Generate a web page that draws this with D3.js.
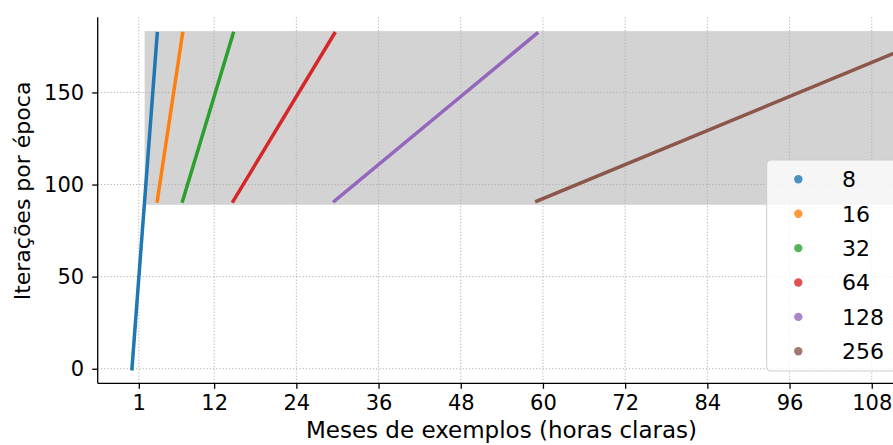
<!DOCTYPE html>
<html>
<head>
<meta charset="utf-8">
<script src="https://cdn.jsdelivr.net/npm/d3@7"></script>
<style>
  body { margin: 0; background: #fff; }
  svg { display: block; font-family: "DejaVu Sans", sans-serif; }
</style>
</head>
<body>
<div id="chart"></div>
<script>
const batchSizes = ["8", "16", "32", "64", "128", "256"];
const monthsStart = [0, 3.69, 7.39, 14.78, 29.56, 59.1];
const monthsEnd = [3.69, 7.39, 14.78, 29.56, 59.1, 118.2];
const itersStart = [0, 91, 91, 91, 91, 91];
const itersEnd = [182, 182, 182, 182, 182, 182];
const colors = ["#1f77b4", "#ff7f0e", "#2ca02c", "#d62728", "#9467bd", "#8c564b"];

const xTicks = [1, 12, 24, 36, 48, 60, 72, 84, 96, 108];
const yTicks = [0, 50, 100, 150];
// shaded region (months, iterations)
const band = { x0: 1.85, x1: 125, y0: 89, y1: 183.3 };

const width = 893, height = 445;
const plot = { left: 97.7, right: 906, top: 17.3, bottom: 383.3 };

const svg = d3.select("#chart").append("svg")
  .attr("width", width)
  .attr("height", height);

const x = d3.scaleLinear().domain([-5, 113]).range([plot.left, plot.right]);
const y = d3.scaleLinear().domain([-7.9, 190.8]).range([plot.bottom, plot.top]);

// Band
svg.append("rect")
  .attr("x", x(band.x0))
  .attr("y", y(band.y1))
  .attr("width", x(band.x1) - x(band.x0))
  .attr("height", y(band.y0) - y(band.y1))
  .attr("fill", "#d3d3d3");

// Grid
const grid = svg.append("g")
  .attr("stroke", "#b0b0b0")
  .attr("stroke-width", 1)
  .attr("stroke-dasharray", "1.2,2");
grid.selectAll(".vx").data(xTicks).join("line")
  .attr("x1", (d) => x(d)).attr("x2", (d) => x(d))
  .attr("y1", plot.top).attr("y2", plot.bottom);
grid.selectAll(".hy").data(yTicks).join("line")
  .attr("x1", plot.left).attr("x2", plot.right)
  .attr("y1", (d) => y(d)).attr("y2", (d) => y(d));

// Lines
svg.append("g")
  .selectAll("line")
  .data(batchSizes.map((b, i) => i))
  .join("line")
  .attr("x1", (i) => x(monthsStart[i]))
  .attr("y1", (i) => y(itersStart[i]))
  .attr("x2", (i) => x(monthsEnd[i]))
  .attr("y2", (i) => y(itersEnd[i]))
  .attr("stroke", (i) => colors[i])
  .attr("stroke-width", 3.5)
  .attr("stroke-linecap", "square");

// Axes
svg.append("g")
  .attr("transform", `translate(0,${plot.bottom})`)
  .call(d3.axisBottom(x).tickValues(xTicks).tickSize(5.5).tickPadding(6))
  .call((g) => g.select(".domain").attr("d", `M${plot.left},0H${plot.right}`).attr("stroke-width", 1.3))
  .call((g) => g.selectAll(".tick line").attr("stroke-width", 1.3))
  .call((g) => g.selectAll("text").attr("font-size", "21px").attr("fill", "#000")
    .attr("font-family", "DejaVu Sans"));

svg.append("g")
  .attr("transform", `translate(${plot.left},0)`)
  .call(d3.axisLeft(y).tickValues(yTicks).tickSize(5.5).tickPadding(8))
  .call((g) => g.select(".domain").attr("d", `M0,${plot.bottom}V${plot.top}`).attr("stroke-width", 1.3))
  .call((g) => g.selectAll(".tick line").attr("stroke-width", 1.3))
  .call((g) => g.selectAll("text").attr("font-size", "21px").attr("fill", "#000")
    .attr("font-family", "DejaVu Sans"));

// Axis labels
svg.append("text")
  .attr("x", 501.5)
  .attr("y", 438)
  .attr("text-anchor", "middle")
  .attr("font-size", "23px")
  .text("Meses de exemplos (horas claras)");

svg.append("text")
  .attr("transform", "translate(30,191) rotate(-90)")
  .attr("text-anchor", "middle")
  .attr("font-size", "22px")
  .text("Iterações por época");

// Legend
const legend = svg.append("g");
legend.append("rect")
  .attr("x", 766.7).attr("y", 160)
  .attr("width", 160).attr("height", 211)
  .attr("rx", 4)
  .attr("fill", "#fff").attr("fill-opacity", 0.8)
  .attr("stroke", "#cccccc").attr("stroke-width", 1);

const rowY = (i) => 179.3 + i * 34.4;
legend.selectAll("circle").data(batchSizes).join("circle")
  .attr("cx", 798.3)
  .attr("cy", (d, i) => rowY(i))
  .attr("r", 4.2)
  .attr("fill", (d, i) => colors[i])
  .attr("fill-opacity", 0.8);
legend.selectAll("text").data(batchSizes).join("text")
  .attr("x", 842)
  .attr("y", (d, i) => rowY(i))
  .attr("dy", "0.36em")
  .attr("font-size", "22px")
  .text((d) => d);
</script>
</body>
</html>
